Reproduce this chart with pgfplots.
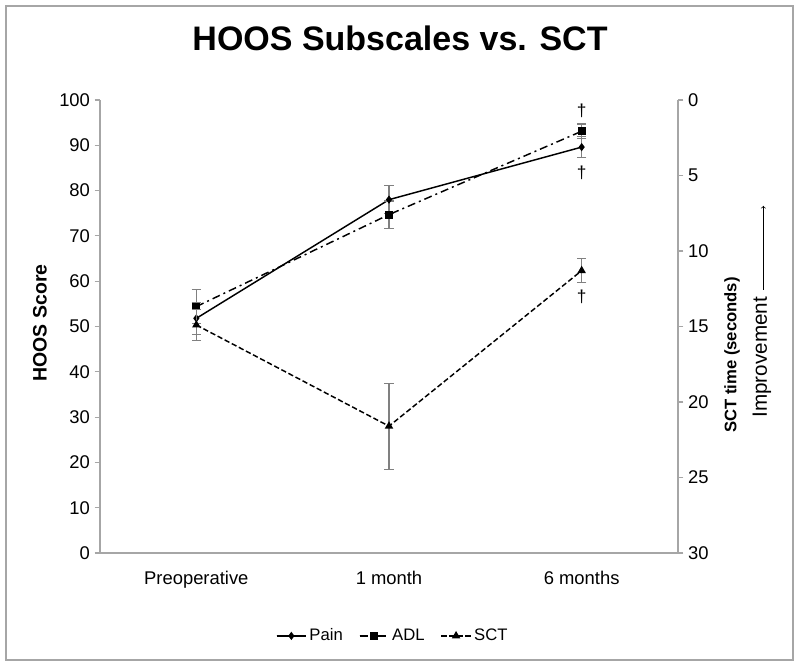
\documentclass[border=0pt]{standalone}
\usepackage{pgfplots}
\pgfplotsset{compat=1.18}
\usepackage{fontspec}
\setmainfont{Liberation Sans}
\begin{document}
\begin{tikzpicture}[x=0.75pt,y=0.75pt]
\pgfplotsset{
  common/.style={
    scale only axis, width=433.5pt, height=339.75pt,
    at={(0,0)}, anchor=south west,
    xmin=0.5, xmax=3.5,
    /pgf/number format/assume math mode=true,
    tick label style={font=\fontsize{13.8}{15}\selectfont},
    axis line style={gray!70, line width=0.8pt},
    tick style={gray!70, line width=0.8pt},
    tick align=outside,
    major tick length=4pt,
    clip=false,
  }
}
\begin{axis}[common,
  axis x line*=bottom, axis y line*=left,
  ymin=0, ymax=100, ytick={0,10,...,100},
  xtick={1,2,3}, xticklabels={Preoperative,1 month,6 months},
  x tick style={draw=none},
  minor xtick={0.5,1.5,2.5,3.5},
  minor x tick style={gray!70, line width=0.8pt},
  minor tick length=4pt,
  xticklabel style={yshift=-6pt},
  legend columns=3,
  legend style={draw=none, at={(0.507,-0.183)}, anchor=center,
    font=\fontsize{12.5}{14}\selectfont,
    /tikz/every even column/.append style={column sep=10pt}},
  legend image code/.code={\draw[#1] (0pt,0pt) -- (22pt,0pt); \draw[#1, mark repeat=2, mark phase=2] plot coordinates {(0pt,0pt) (11pt,0pt) (22pt,0pt)};},
]
\addplot[black, line width=1.1pt, mark=diamond*, mark size=2.2pt,
  error bars/.cd, y dir=both, y explicit,
  error bar style={gray, line width=1pt},
  error mark options={rotate=90, gray, mark size=3.5pt, line width=0.8pt}]
  coordinates {(1,51.8) +- (0,3.5) (2,78.0) +- (0,3.1) (3,89.6) +- (0,2.3)};
\addlegendentry{Pain}
\addplot[black, line width=1.1pt, dash pattern=on 6pt off 3pt on 1.5pt off 3pt, mark=square*, mark size=2.4pt, mark options={solid},
  error bars/.cd, y dir=both, y explicit,
  error bar style={gray, line width=1pt, solid},
  error mark options={rotate=90, gray, mark size=3.5pt, line width=0.8pt}]
  coordinates {(1,54.4) +- (0,3.8) (2,74.7) +- (0,3.0) (3,93.1) +- (0,1.6)};
\addlegendentry{ADL}
\addlegendimage{black, line width=1.1pt, dash pattern=on 4pt off 2pt, mark=triangle*, mark size=2.6pt, mark options={solid}}
\addlegendentry{SCT}
\node[font=\fontsize{13}{15}\selectfont] at (axis cs:3,97.6) {\textdagger};
\node[font=\fontsize{13}{15}\selectfont] at (axis cs:3,83.9) {\textdagger};
\node[font=\fontsize{13}{15}\selectfont] at (axis cs:3,56.6) {\textdagger};
\end{axis}
\begin{axis}[common,
  axis x line=none, axis y line*=right,
  y dir=reverse, ymin=0, ymax=30, ytick={0,5,...,30},
]
\addplot[black, line width=1.1pt, dash pattern=on 4pt off 2pt, mark=triangle*, mark size=2.6pt, mark options={solid},
  error bars/.cd, y dir=both, y explicit,
  error bar style={gray, line width=1pt, solid},
  error mark options={rotate=90, gray, mark size=3.5pt, line width=0.8pt}]
  coordinates {(1,14.9) +- (0,1.0) (2,21.6) +- (0,2.85) (3,11.3) +- (0,0.8)};
\end{axis}
% titles and labels
\node[font=\fontsize{25.5}{30}\selectfont\bfseries] at (300,515) {HOOS Subscales vs. SCT};
\node[font=\fontsize{14.6}{16}\selectfont\bfseries, rotate=90] at (-60,230) {HOOS Score};
\node[font=\fontsize{12.5}{15}\selectfont\bfseries, rotate=90] at (632,198) {SCT time (seconds)};
\node[font=\fontsize{15.5}{17}\selectfont, rotate=90] at (662,241.5) {Improvement\hspace{5pt}\raisebox{0.3ex}{\tikz\draw[->, line width=0.5pt] (0,0) -- (63pt,0);}};
\draw[gray!70, line width=1.5pt] (-94,-107) rectangle (693,547);
\pgfresetboundingbox
\path (-100,-114) rectangle (700,553);
\end{tikzpicture}
\end{document}
